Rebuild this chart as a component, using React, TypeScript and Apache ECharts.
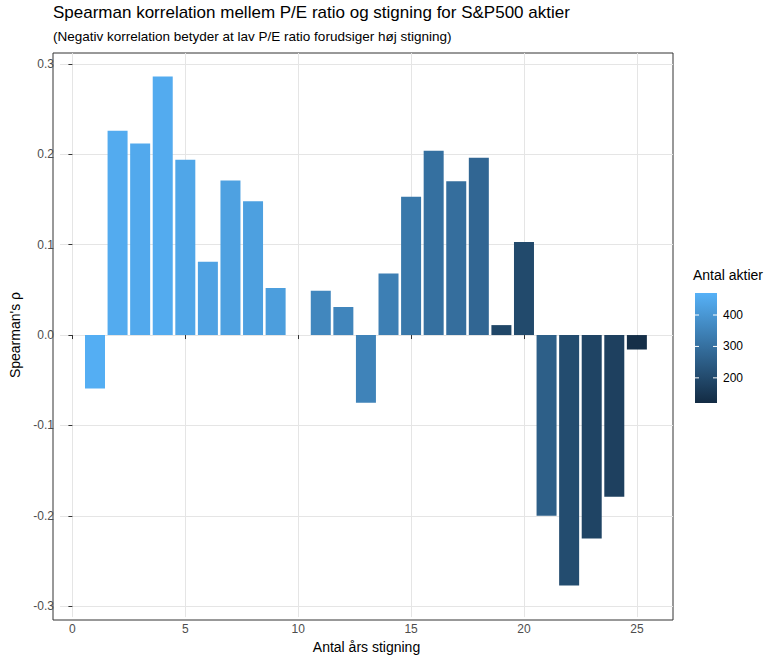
import { useEffect, useRef } from 'react';
import * as echarts from 'echarts';

const years = [1, 2, 3, 4, 5, 6, 7, 8, 9, 11, 12, 13, 14, 15, 16, 17, 18, 19, 20, 21, 22, 23, 24, 25];
const rho = [-0.059, 0.226, 0.212, 0.286, 0.194, 0.081, 0.171, 0.148, 0.052, 0.049, 0.031, -0.075, 0.068, 0.153, 0.204, 0.17, 0.196, 0.011, 0.103, -0.2, -0.277, -0.225, -0.179, -0.016];
const counts = [462, 455, 450, 455, 440, 432, 428, 425, 420, 360, 355, 350, 340, 320, 300, 295, 275, 190, 200, 255, 205, 185, 175, 130];
const xTicks = [0, 5, 10, 15, 20, 25];
const yTicks = [-0.3, -0.2, -0.1, 0, 0.1, 0.2, 0.3];
const legendTicks = [200, 300, 400];
const cMin = 120;
const cMax = 470;

export default function App() {
  const ref = useRef<HTMLDivElement>(null);
  useEffect(() => {
    if (!ref.current) return;
    document.body.style.margin = '0';
    const chart = echarts.init(ref.current, null, { renderer: 'svg' });
    const font = 'Liberation Sans, Arial, sans-serif';
    const legTop = 293, legH = 110, legLeft = 695;
    const yOf = (v: number) => legTop + legH * (1 - (v - cMin) / (cMax - cMin));
    chart.setOption({
      animation: false,
      textStyle: { fontFamily: font },
      grid: { left: 53, right: 96, top: 53, bottom: 39 },
      xAxis: {
        type: 'value', min: -0.55, max: 26.6,
        name: 'Antal års stigning', nameLocation: 'middle', nameGap: 22,
        nameTextStyle: { fontSize: 14, color: '#000' },
        axisLine: { show: false },
        axisTick: { show: true, customValues: xTicks, length: 4, lineStyle: { color: '#333' } },
        axisLabel: { customValues: xTicks, color: '#4d4d4d', fontSize: 12, margin: 6 },
        splitLine: { lineStyle: { color: '#e5e5e5' } },
      },
      yAxis: {
        type: 'value', min: -0.312, max: 0.312,
        name: "Spearman's ρ", nameLocation: 'middle', nameGap: 38,
        nameTextStyle: { fontSize: 14, color: '#000' },
        axisLine: { show: false },
        axisTick: { show: true, customValues: yTicks, length: 4, lineStyle: { color: '#333' } },
        axisLabel: { customValues: yTicks, color: '#4d4d4d', fontSize: 12, margin: 6, formatter: (v: number) => v.toFixed(1) },
        splitLine: { lineStyle: { color: '#e5e5e5' } },
      },
      visualMap: { show: false, type: 'continuous', min: cMin, max: cMax, dimension: 2, inRange: { color: ['#132B43', '#56B1F7'] } },
      series: [{
        type: 'bar', barWidth: 20,
        data: years.map((x, i) => [x, rho[i], counts[i]]),
      }],
      graphic: [
        { type: 'text', left: 53, top: 4, style: { text: 'Spearman korrelation mellem P/E ratio og stigning for S&P500 aktier', fontSize: 17, fill: '#000', fontFamily: font } },
        { type: 'text', left: 53, top: 29, style: { text: '(Negativ korrelation betyder at lav P/E ratio forudsiger høj stigning)', fontSize: 13.5, fill: '#000', fontFamily: font } },
        { type: 'rect', shape: { x: 53, y: 53, width: 620, height: 567 }, style: { fill: 'none', stroke: '#333', lineWidth: 1 }, silent: true },
        { type: 'text', left: 693, top: 268, style: { text: 'Antal aktier', fontSize: 14, fill: '#000', fontFamily: font } },
        {
          type: 'rect', shape: { x: legLeft, y: legTop, width: 22, height: legH },
          style: { fill: new echarts.graphic.LinearGradient(0, 0, 0, 1, [{ offset: 0, color: '#56B1F7' }, { offset: 1, color: '#132B43' }]) },
        },
        ...legendTicks.map((t) => ({ type: 'text', x: legLeft + 28, y: yOf(t) - 6, style: { text: String(t), fontSize: 12, fill: '#000', fontFamily: font } })),
        ...legendTicks.flatMap((t) => [
          { type: 'line', shape: { x1: legLeft, y1: yOf(t), x2: legLeft + 4, y2: yOf(t) }, style: { stroke: '#fff' } },
          { type: 'line', shape: { x1: legLeft + 18, y1: yOf(t), x2: legLeft + 22, y2: yOf(t) }, style: { stroke: '#fff' } },
        ]),
      ],
    });
    return () => chart.dispose();
  }, []);
  return <div ref={ref} style={{ width: 769, height: 659 }} />;
}
